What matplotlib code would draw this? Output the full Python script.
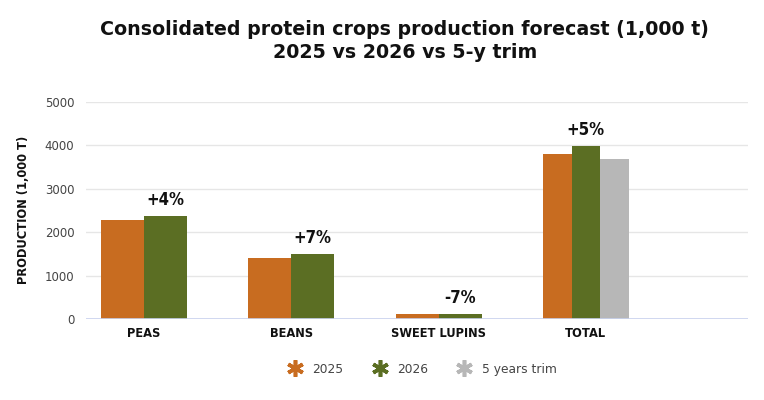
import matplotlib
matplotlib.use("Agg")
import matplotlib.pyplot as plt
from matplotlib.lines import Line2D
import numpy as np

# data (1,000 t)
categories = ["PEAS", "BEANS", "SWEET LUPINS", "TOTAL"]
prod_2025 = [2270, 1400, 120, 3790]
prod_2026 = [2375, 1490, 115, 3980]
trim_5y = [None, None, None, 3680]
change_labels = ["+4%", "+7%", "-7%", "+5%"]

series_names = ["2025", "2026", "5 years trim"]
colors = ["#C86C20", "#5B6E23", "#B7B7B7"]

fig = plt.figure(figsize=(7.64, 4.0), dpi=100)
ax = fig.add_axes([0.112, 0.2025, 0.867, 0.5435])

group_width = 0.584
x = np.arange(len(categories))

for i, cat in enumerate(categories):
    vals = [prod_2025[i], prod_2026[i], trim_5y[i]]
    present = [(k, v) for k, v in enumerate(vals) if v is not None]
    w = group_width / len(present)
    start = x[i] - group_width / 2
    for j, (k, v) in enumerate(present):
        ax.bar(start + w * (j + 0.5), v, width=w, color=colors[k], zorder=3)
    # change label above the 2026 bar
    pos_2026 = [j for j, (k, v) in enumerate(present) if k == 1][0]
    ax.annotate(change_labels[i], (start + w * (pos_2026 + 0.5), prod_2026[i]),
                xytext=(0, 5), textcoords="offset points", ha="center", va="bottom",
                fontsize=12, fontweight="bold", fontstretch="condensed", color="#111111",
                family="DejaVu Sans")

ax.set_ylim(0, 5000)
ax.set_xlim(-0.396, 4.10)
ax.set_yticks(range(0, 5001, 1000))
ax.set_xticks(x)
ax.set_xticklabels(categories, fontsize=8.3, fontweight="bold", color="#111111")
ax.tick_params(axis="y", labelsize=8.5, labelcolor="#444444", length=0, pad=8)
ax.tick_params(axis="x", length=0, pad=6)

ax.grid(axis="y", color="#E6E6E6", linewidth=1, zorder=0)
for s in ax.spines.values():
    s.set_visible(False)
ax.axhline(0, color="#C9D2EE", linewidth=1.2, zorder=4)

ax.set_ylabel("PRODUCTION (1,000 T)", fontsize=8.3, fontweight="bold", color="#111111", labelpad=11)

fig.suptitle("Consolidated protein crops production forecast (1,000 t)\n2025 vs 2026 vs 5-y trim",
             x=0.530, y=0.950, fontsize=13.7, fontweight="bold", color="#111111", linespacing=1.25)

handles = [Line2D([], [], linestyle="none", marker=(6, 2, 0), markersize=12,
                  markeredgewidth=2.6, color=c) for c in colors]
fig.legend(handles, series_names, loc="center", bbox_to_anchor=(0.549, 0.077), ncol=3,
           frameon=False, fontsize=8.8, labelcolor="#444444", columnspacing=2.0, handletextpad=0.4)

fig.savefig("out.png", dpi=100)
